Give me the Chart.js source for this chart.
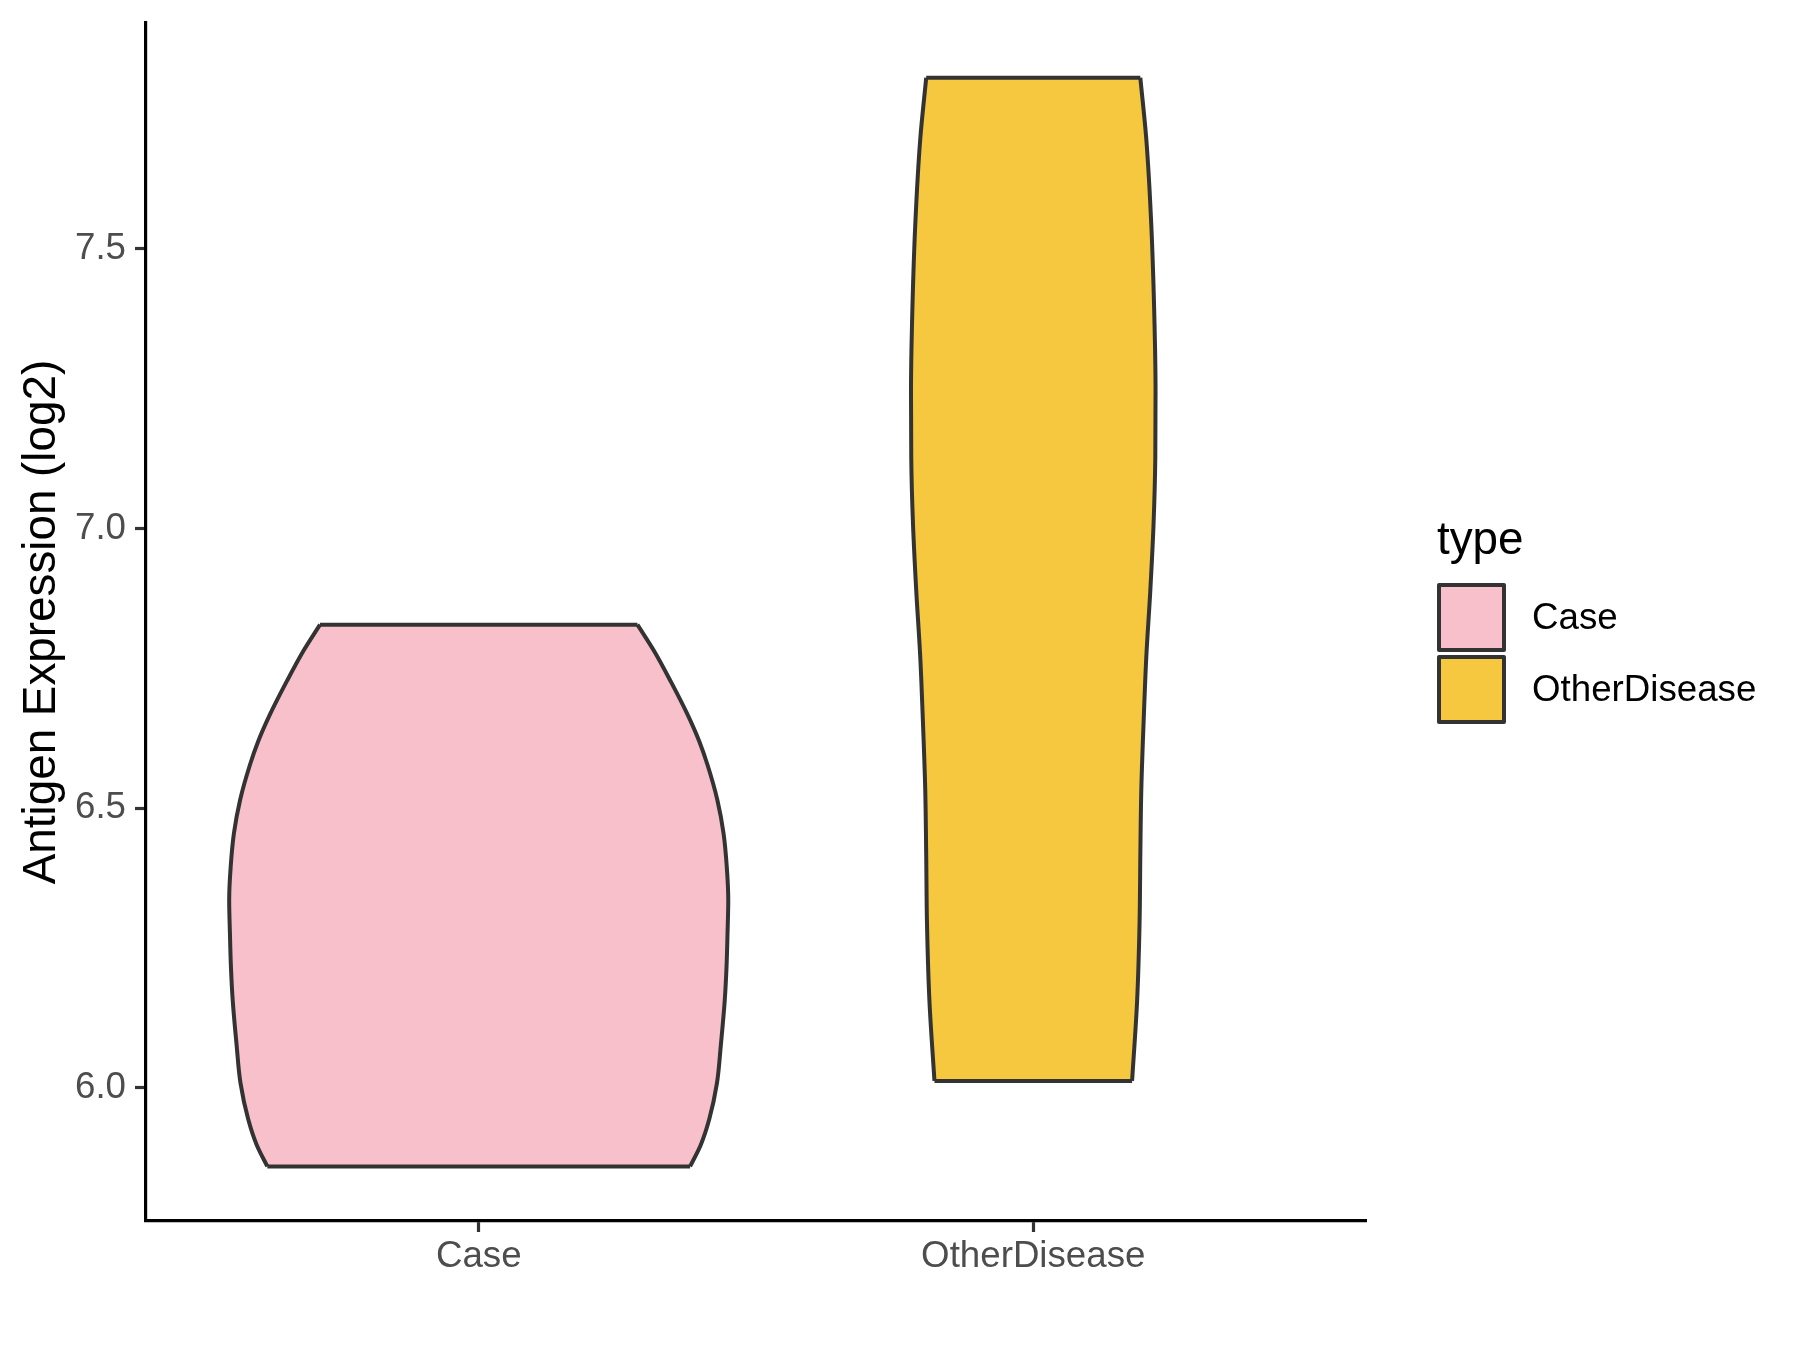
<!DOCTYPE html>
<html>
<head>
<meta charset="utf-8">
<script src="https://cdn.jsdelivr.net/npm/chart.js@4.4.1/dist/chart.umd.min.js"></script>
<style>
  body { margin: 0; background: #fff; }
  #wrap { position: relative; width: 1800px; height: 1350px; font-family: "Liberation Sans", Arial, sans-serif; }
  #legend { position: absolute; left: 0; top: 0; }
  .lg-title { position: absolute; left: 1437px; top: 516px; font-size: 45.8px; line-height: 45.8px; color: #000; white-space: nowrap; }
  .lg-key { position: absolute; left: 1437px; width: 69px; height: 69px; box-sizing: border-box; border: 4px solid #333; border-radius: 2px; }
  .lg-label { position: absolute; left: 1532px; font-size: 36.7px; line-height: 36.7px; color: #000; white-space: nowrap; }
</style>
</head>
<body>
<div id="wrap">
  <canvas id="chart" width="1800" height="1350"></canvas>
  <div id="legend"></div>
</div>
<script>
// categories et valeurs
const categories = ["Case", "OtherDisease"];
const fillColors = ["#F7C0CB", "#F5C840"];

// contour du violon "Case" : niveaux (log2) et largeur relative de la densité
const caseLevels  = [5.859, 5.898, 5.944, 6.009, 6.075, 6.157, 6.216, 6.276, 6.336, 6.395, 6.455, 6.515, 6.577, 6.619, 6.667, 6.726, 6.780, 6.828];
const caseDensity = [0.847, 0.890, 0.924, 0.955, 0.970, 0.986, 0.993, 0.997, 1.000, 0.994, 0.981, 0.956, 0.917, 0.884, 0.837, 0.770, 0.704, 0.636];

// contour du violon "OtherDisease"
const otherLevels  = [6.012, 6.154, 6.296, 6.415, 6.534, 6.652, 6.771, 6.889, 7.008, 7.127, 7.245, 7.364, 7.542, 7.696, 7.806];
const otherDensity = [0.396, 0.416, 0.426, 0.429, 0.433, 0.442, 0.453, 0.469, 0.482, 0.489, 0.490, 0.486, 0.473, 0.453, 0.429];

const yTicks = [6.0, 6.5, 7.0, 7.5];

const halfWidth = 0.45;   // largeur max du violon (0.9 / 2)
const outline = "#333333";
const lw = 4;
const axisLw = 3.2;

/**
 * Construit les jeux de données d'un violon : 2 bords + 2 extrémités plates.
 */
function violinDatasets(pos, levels, density, color, startIndex) {
    const left = levels.map((v, i) => ({ x: pos - density[i] * halfWidth, y: v }));
    const right = levels.map((v, i) => ({ x: pos + density[i] * halfWidth, y: v }));
    const n = levels.length - 1;
    const line = { borderColor: outline, borderWidth: lw, pointRadius: 0, fill: false };
    return [
        { ...line, data: [left[n], right[n]] },
        { ...line, data: [left[0], right[0]] },
        { ...line, data: left, cubicInterpolationMode: "monotone" },
        { ...line, data: right, cubicInterpolationMode: "monotone",
          fill: { target: startIndex + 2 }, backgroundColor: color },
    ];
}

const datasets = [
    ...violinDatasets(1, caseLevels, caseDensity, fillColors[0], 0),
    ...violinDatasets(2, otherLevels, otherDensity, fillColors[1], 4),
];

const tickFont = { family: "'Liberation Sans', Arial, sans-serif", size: 36.7 };

new Chart(document.getElementById("chart").getContext("2d"), {
    type: "line",
    data: { datasets },
    options: {
        responsive: false,
        devicePixelRatio: 1,
        animation: false,
        indexAxis: "y",
        layout: { padding: { top: 23, right: 434, left: 0, bottom: 0 } },
        plugins: { legend: { display: false }, tooltip: { enabled: false } },
        scales: {
            x: {
                type: "linear",
                min: 0.4,
                max: 2.6,
                afterBuildTicks: (scale) => { scale.ticks = categories.map((c, i) => ({ value: i + 1 })); },
                afterFit: (scale) => { scale.height = 129; },
                ticks: { font: tickFont, color: "#4d4d4d", padding: 3,
                         callback: (v) => categories[Math.round(v) - 1] },
                grid: { drawOnChartArea: false, drawTicks: true, tickLength: 11, tickWidth: axisLw, tickColor: outline },
                border: { display: true, color: "#000", width: axisLw },
            },
            y: {
                type: "linear",
                min: 5.7615,
                max: 7.904,
                afterBuildTicks: (scale) => { scale.ticks = yTicks.map((v) => ({ value: v })); },
                afterFit: (scale) => {
                    scale.width = 146;
                    scale.paddingTop = 0;
                    scale.paddingBottom = 0;
                },
                ticks: { font: tickFont, color: "#4d4d4d", padding: 9,
                         callback: (v) => v.toFixed(1) },
                grid: { drawOnChartArea: false, drawTicks: true, tickLength: 11, tickWidth: axisLw, tickColor: outline },
                border: { display: true, color: "#000", width: axisLw },
                title: {
                    display: true,
                    text: "Antigen Expression (log2)",
                    color: "#000",
                    font: { family: "'Liberation Sans', Arial, sans-serif", size: 45.8 },
                    padding: { top: 15, bottom: 0 },
                },
            },
        },
    },
});

// légende (style ggplot)
const legend = document.getElementById("legend");
legend.innerHTML = `<div class="lg-title">type</div>` +
    categories.map((c, i) => {
        const top = 583 + i * 72;
        return `<div class="lg-key" style="top:${top}px;background:${fillColors[i]}"></div>` +
               `<div class="lg-label" style="top:${top + 16}px">${c}</div>`;
    }).join("");
</script>
</body>
</html>
